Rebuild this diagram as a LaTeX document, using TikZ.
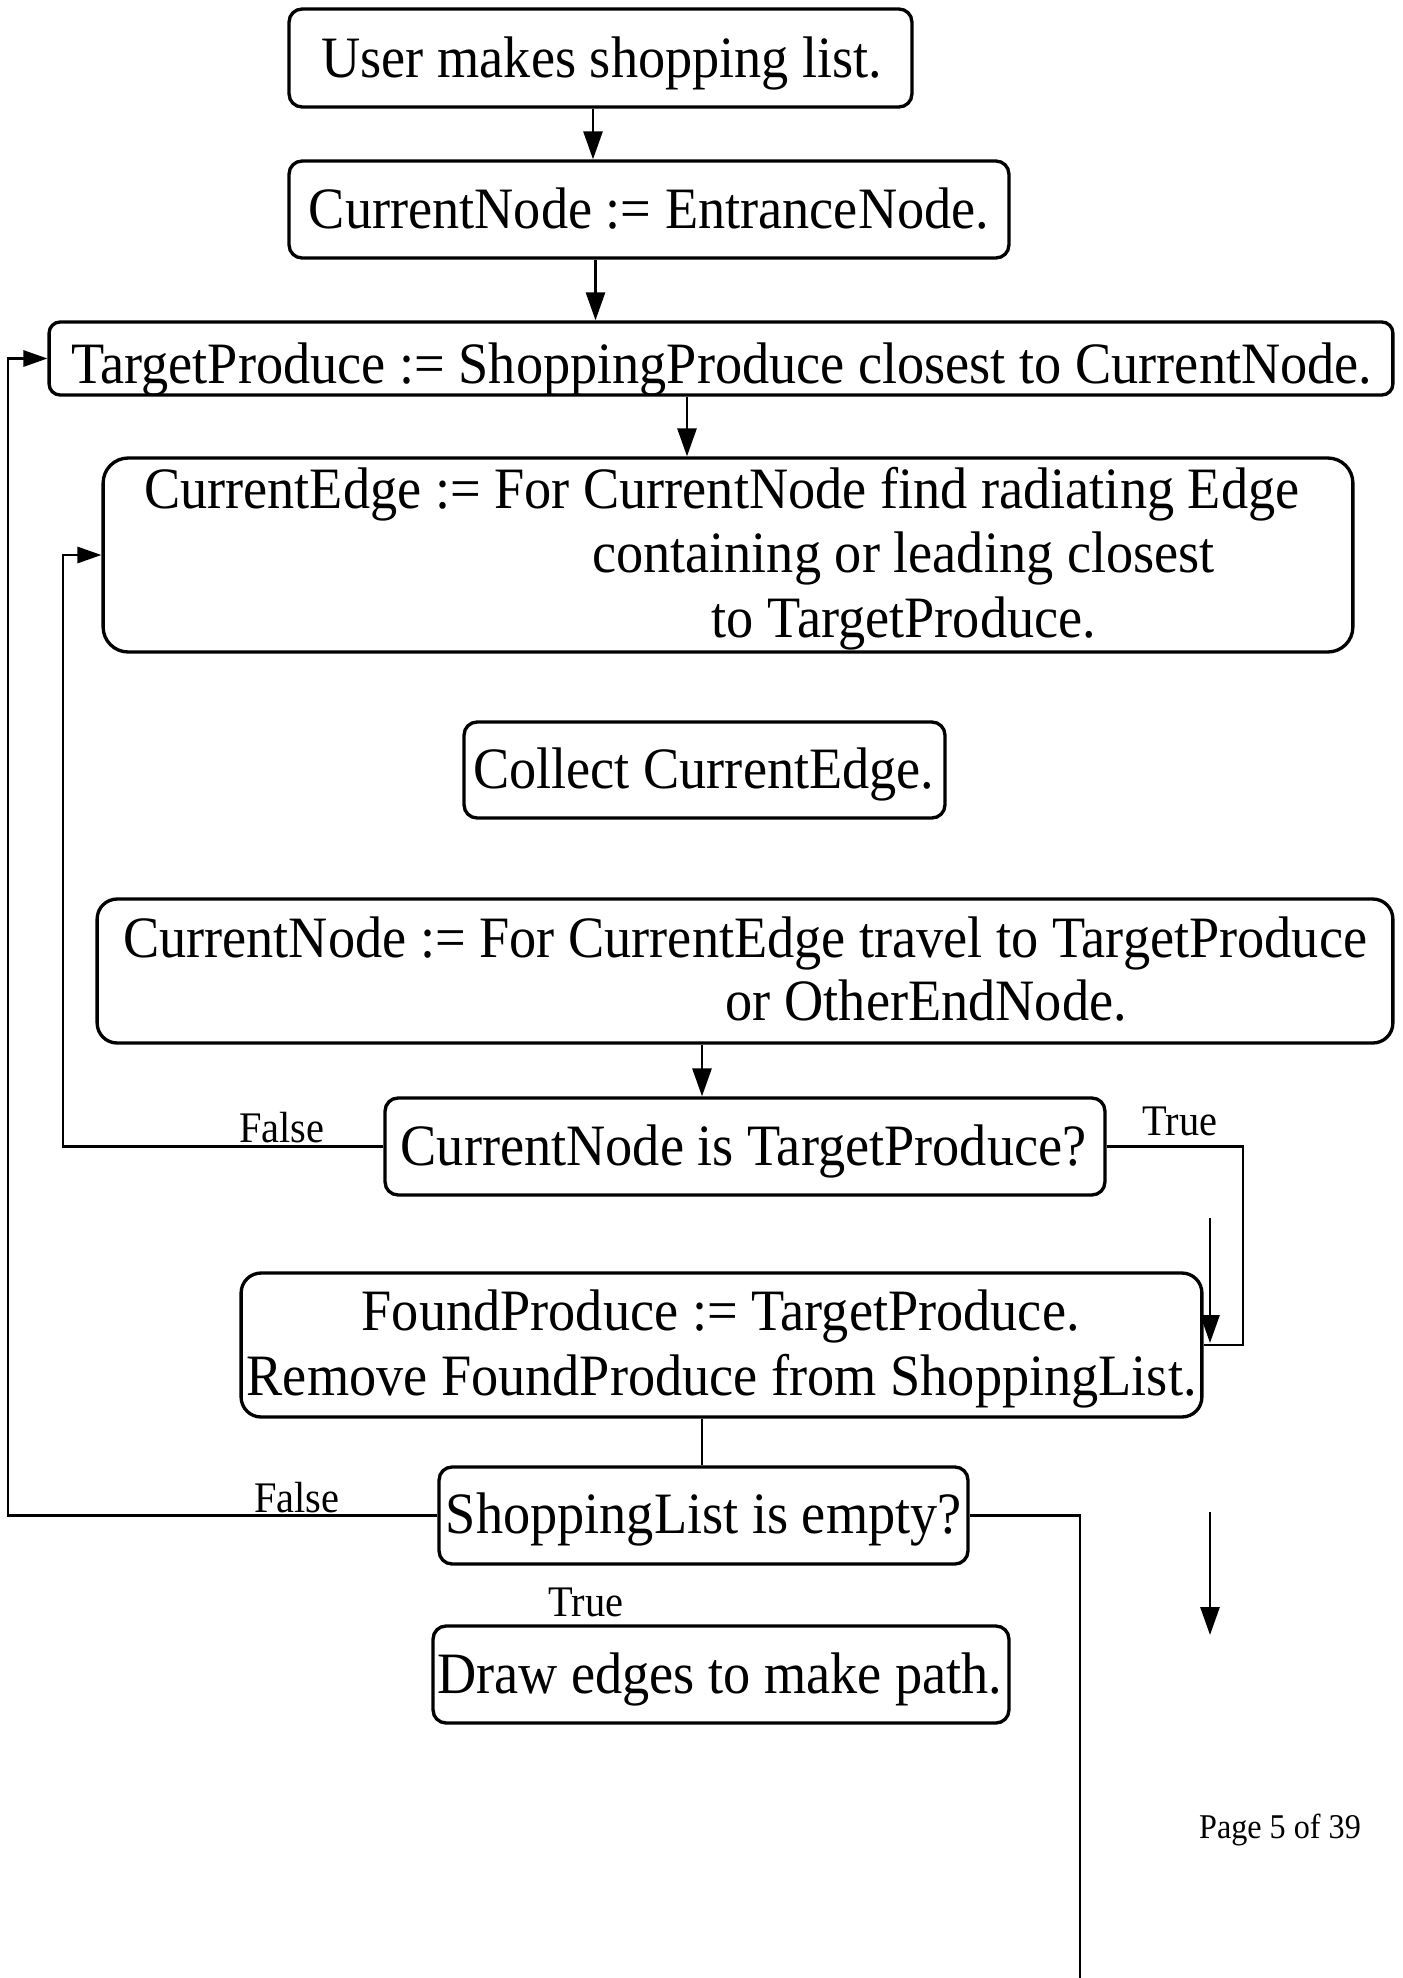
\documentclass[tikz,border=0pt]{standalone}
\usepackage{fontspec}
\setmainfont{Liberation Serif}
\usetikzlibrary{arrows.meta}
\newcommand{\talltext}[1]{\scalebox{1}[1.08]{#1}}
\begin{document}
\begin{tikzpicture}[x=0.02cm,y=-0.02cm,
  box/.style={draw,line width=1.9pt,rounded corners=0.26cm,inner sep=0pt},
  txt/.style={font=\fontsize{30.9}{37}\selectfont,inner sep=0pt,anchor=base},
  conn/.style={line width=1.6pt},
  arr/.style={conn,-{Triangle[length=0.56cm,width=0.38cm]}},
  sarr/.style={conn,-{Triangle[length=0.48cm,width=0.32cm]}},
  lbl/.style={font=\fontsize{23}{27}\selectfont,anchor=base,inner sep=0pt},
  pagelbl/.style={font=\fontsize{18.3}{22}\selectfont,anchor=base,inner sep=0pt}]
\useasboundingbox (0,0) rectangle (1403,1978);

% boxes
\node[box,minimum width=12.46cm,minimum height=1.96cm] (b1) at (600.5,58) {};
\node[box,minimum width=14.4cm,minimum height=1.94cm] (b2) at (649,209.5) {};
\node[box,minimum width=26.88cm,minimum height=1.46cm,rounded corners=0.22cm] (b3) at (721,358.5) {};
\node[box,minimum width=25.0cm,minimum height=3.88cm,rounded corners=0.5cm] (b4) at (728,555) {};
\node[box,minimum width=9.62cm,minimum height=1.92cm] (b5) at (704.5,770) {};
\node[box,minimum width=25.92cm,minimum height=2.88cm,rounded corners=0.4cm] (b6) at (745,971) {};
\node[box,minimum width=14.4cm,minimum height=1.94cm] (b7) at (745,1146.5) {};
\node[box,minimum width=19.22cm,minimum height=2.88cm,rounded corners=0.4cm] (b8) at (721.5,1345) {};
\node[box,minimum width=10.58cm,minimum height=1.94cm] (b9) at (703.5,1515.5) {};
\node[box,minimum width=11.52cm,minimum height=1.94cm] (b10) at (721,1674.5) {};

% texts
\node[txt] (t1) at (602,77) {\talltext{User makes shopping list.}};
\node[txt] (t2) at (649,228) {\talltext{CurrentNode := EntranceNode.}};
\node[txt] (t3) at (721.7,383) {\talltext{TargetProduce := ShoppingProduce closest to CurrentNode.}};
\node[txt] (t4a) at (721.7,508) {\talltext{CurrentEdge := For CurrentNode find radiating Edge}};
\node[txt] (t4b) at (903.4,572) {\talltext{containing or leading closest}};
\node[txt] (t4c) at (903.9,637) {\talltext{to TargetProduce.}};
\node[txt] (t5) at (703.8,788) {\talltext{Collect CurrentEdge.}};
\node[txt] (t6a) at (745.1,957) {\talltext{CurrentNode := For CurrentEdge travel to TargetProduce}};
\node[txt] (t6b) at (926.3,1020) {\talltext{or OtherEndNode.}};
\node[txt] (t7) at (743.6,1165) {\talltext{CurrentNode is TargetProduce?}};
\node[txt] (t8a) at (720.7,1330) {\talltext{FoundProduce := TargetProduce.}};
\node[txt] (t8b) at (721.7,1395) {\talltext{Remove FoundProduce from ShoppingList.}};
\node[txt] (t9) at (703.8,1533) {\talltext{ShoppingList is empty?}};
\node[txt] (t10) at (719.7,1693) {\talltext{Draw edges to make path.}};

% reference x positions
\coordinate (xa) at (593,0);
\coordinate (xb) at (595.5,0);
\coordinate (xc) at (687,0);
\coordinate (xd) at (702,0);
\coordinate (xL1) at (63,0);
\coordinate (xL0) at (8,0);
\coordinate (xR1) at (1243,0);
\coordinate (xR9) at (1080,0);
\coordinate (bot) at (1080,1978);
\coordinate (s1a) at (1210,1218);
\coordinate (s1b) at (1210,1343);
\coordinate (s2a) at (1210,1512);
\coordinate (s2b) at (1210,1635);

\draw[arr] (b1.south -| xa) -- (b2.north -| xa);
\draw[arr] (b2.south -| xb) -- (b3.north -| xb);
\draw[arr] (b3.south -| xc) -- (b4.north -| xc);
\draw[arr] (b6.south -| xd) -- (b7.north -| xd);
\draw[sarr] (b7.west) -- (xL1 |- b7.west) |- (b4.west);
\draw[conn] (b7.east) -- (xR1 |- b7.east) |- (b8.east);
\draw[arr] (s1a) -- (s1b);
\draw[conn] (b8.south -| xd) -- (b9.north -| xd);
\draw[sarr] (b9.west) -- (xL0 |- b9.west) |- (b3.west);
\draw[conn] (b9.east) -- (xR9 |- b9.east) -- (bot);
\draw[arr] (s2a) -- (s2b);

\node[lbl] (f1) at (282,1142) {\talltext{False}};
\node[lbl] (tr1) at (1180,1135) {\talltext{True}};
\node[lbl] (f2) at (297,1512) {\talltext{False}};
\node[lbl] (tr2) at (586,1616) {\talltext{True}};
\node[pagelbl] (pg) at (1280,1838) {\talltext{Page 5 of 39}};
\end{tikzpicture}
\end{document}
